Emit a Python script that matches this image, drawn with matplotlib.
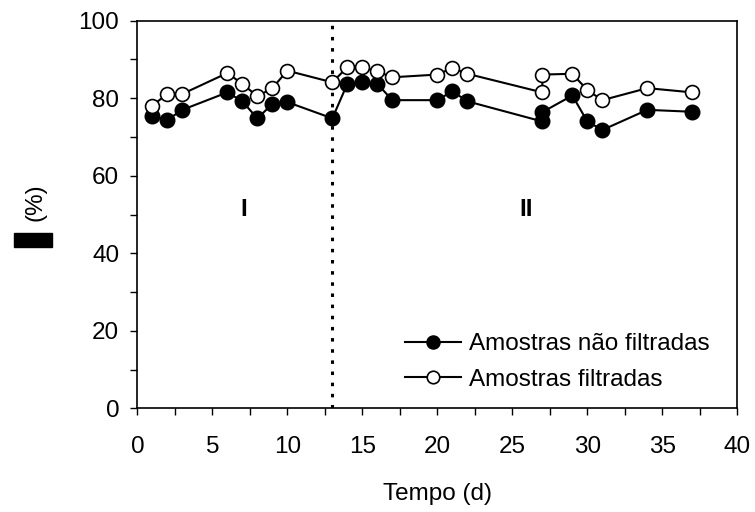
import matplotlib
matplotlib.use("Agg")
import matplotlib.pyplot as plt
from matplotlib.patches import Rectangle
from matplotlib.ticker import MultipleLocator

# Data
dias = [1, 2, 3, 6, 7, 8, 9, 10, 13, 14, 15, 16, 17, 20, 21, 22, 27, 27, 29, 30, 31, 34, 37]
nao_filtradas = [75.3, 74.4, 77.0, 81.5, 79.2, 74.8, 78.5, 79.0, 74.8, 83.7, 84.1, 83.7, 79.5,
                 79.5, 81.8, 79.2, 74.0, 76.4, 80.7, 74.0, 71.8, 77.0, 76.5]
filtradas = [78.1, 81.1, 81.1, 86.5, 83.7, 80.5, 82.6, 87.1, 84.1, 88.0, 88.0, 86.9, 85.4,
             86.1, 87.8, 86.3, 81.5, 86.1, 86.3, 82.1, 79.5, 82.6, 81.5]
divisao = 13
fases = ["I", "II"]
fases_x = [7.1, 25.9]

plt.rcParams['font.family'] = ['Liberation Sans', 'DejaVu Sans']
FS = 17.5

fig = plt.figure(figsize=(7.55, 5.12), dpi=100)
ax = fig.add_axes([0.1819, 0.2025, 0.7947, 0.7571])

ax.plot(dias, nao_filtradas, color="black", lw=1.5, marker="o", ms=10.5,
        mfc="black", mec="black", label="Amostras não filtradas", zorder=3)
ax.plot(dias, filtradas, color="black", lw=1.5, marker="o", ms=10,
        mfc="white", mec="black", mew=1.2, label="Amostras filtradas", zorder=3)

# dotted separator between phase I and II
ax.axvline(divisao, color="black", lw=2.2, ls=(0, (1.15, 2.5)), zorder=2)

for f, x in zip(fases, fases_x):
    ax.text(x, 51.4, f, fontsize=FS, fontweight="bold", ha="center", va="center")

ax.set_xlim(0, 40)
ax.set_ylim(0, 100)
ax.xaxis.set_major_locator(MultipleLocator(5))
ax.xaxis.set_minor_locator(MultipleLocator(2.5))
ax.yaxis.set_major_locator(MultipleLocator(20))
ax.yaxis.set_minor_locator(MultipleLocator(10))
ax.tick_params(which="both", direction="out", length=5, width=1, labelsize=FS, color="black")
ax.tick_params(axis="x", pad=15)
ax.tick_params(axis="y", pad=8)
for s in ax.spines.values():
    s.set_linewidth(1.2)

ax.set_xlabel("Tempo (d)", fontsize=FS, labelpad=18)

# y label: the symbol is hidden behind a black box in the original
fig.text(36 / 755, 1 - 202 / 512, "(%)", fontsize=FS, rotation=90, ha="center", va="center")
fig.patches.append(Rectangle((14 / 755, 1 - 247 / 512), 38 / 755, 14 / 512,
                             transform=fig.transFigure, color="black"))

ax.legend(loc="lower left", bbox_to_anchor=(0.446, 0.045), frameon=False, fontsize=FS,
          handlelength=2.3, handletextpad=0.35, labelspacing=0.55, borderaxespad=0,
          borderpad=0, markerscale=0.9)

fig.savefig("out.png", dpi=100)
